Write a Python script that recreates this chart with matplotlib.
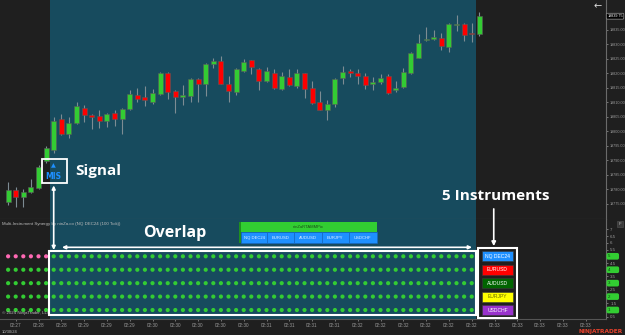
import numpy as np
import matplotlib
matplotlib.use("Agg")
import matplotlib.pyplot as plt
import matplotlib.transforms as mtransforms
from matplotlib.patches import Rectangle, ConnectionPatch
from matplotlib.ticker import FixedLocator

## data (NQ DEC24, 100 tick bars)
opens = [19775.75, 19779.75, 19777.25, 19779.25, 19780.5, 19789.75, 19793.75, 19804.25, 19799.25, 19803.0,
         19808.25, 19805.75, 19805.25, 19803.5, 19806.25, 19804.25, 19807.75, 19812.75, 19811.75, 19810.0,
         19813.0, 19820.25, 19814.0, 19811.75, 19812.25, 19818.25, 19816.5, 19823.25, 19824.25, 19816.5,
         19813.75, 19820.75, 19824.5, 19821.5, 19817.25, 19820.0, 19814.5, 19818.75, 19815.75, 19820.0,
         19815.0, 19810.0, 19807.5, 19809.5, 19818.5, 19820.75, 19820.25, 19819.0, 19816.5, 19817.0,
         19819.0, 19814.25, 19815.25, 19820.25, 19825.5, 19831.5, 19831.75, 19832.25, 19829.25, 19836.75,
         19837.0, 19834.0, 19833.5]
highs = [19782.75, 19781.0, 19780.0, 19783.75, 19788.5, 19795.0, 19805.0, 19806.0, 19805.0, 19810.25,
         19809.0, 19806.0, 19807.5, 19806.25, 19807.5, 19808.0, 19814.25, 19815.0, 19815.75, 19814.75,
         19820.5, 19820.5, 19814.25, 19816.0, 19818.5, 19818.5, 19823.5, 19825.5, 19826.0, 19819.0,
         19821.75, 19825.0, 19824.75, 19821.75, 19822.25, 19821.5, 19820.5, 19821.5, 19821.5, 19820.25,
         19817.5, 19814.0, 19811.0, 19818.5, 19822.75, 19821.5, 19821.5, 19820.25, 19818.75, 19819.75,
         19819.75, 19817.25, 19821.75, 19827.5, 19833.75, 19836.0, 19835.0, 19834.0, 19837.25, 19840.0,
         19837.25, 19837.5, 19841.25]
lows = [19774.75, 19774.0, 19774.0, 19778.75, 19780.25, 19789.25, 19792.5, 19798.75, 19797.75, 19802.5,
        19803.25, 19801.0, 19801.25, 19801.5, 19802.0, 19799.25, 19807.5, 19810.25, 19808.75, 19809.5,
        19812.75, 19811.25, 19806.5, 19809.25, 19810.0, 19810.25, 19812.25, 19821.75, 19816.25, 19810.25,
        19812.5, 19820.5, 19819.75, 19814.25, 19817.0, 19814.75, 19814.25, 19815.75, 19815.0, 19811.5,
        19809.5, 19807.25, 19804.0, 19808.5, 19816.5, 19818.75, 19816.5, 19814.5, 19814.25, 19816.5,
        19813.0, 19813.75, 19815.0, 19819.75, 19825.25, 19831.25, 19831.5, 19828.25, 19827.25, 19834.75,
        19831.25, 19831.0, 19833.0]
closes = [19779.75, 19777.25, 19779.25, 19780.75, 19787.75, 19794.25, 19803.5, 19799.25, 19803.0, 19808.75,
          19805.75, 19805.0, 19803.5, 19806.0, 19804.25, 19807.75, 19813.0, 19811.25, 19811.0, 19813.25,
          19820.25, 19813.5, 19811.75, 19812.5, 19818.0, 19816.5, 19823.25, 19824.25, 19816.5, 19814.0,
          19821.5, 19824.0, 19822.25, 19817.5, 19821.0, 19815.0, 19819.0, 19816.0, 19820.0, 19814.5,
          19809.75, 19807.5, 19809.5, 19818.25, 19820.5, 19820.25, 19819.25, 19816.0, 19817.0, 19818.5,
          19813.25, 19815.0, 19820.5, 19827.0, 19830.5, 19831.75, 19832.5, 19829.5, 19837.0, 19836.75,
          19833.25, 19833.5, 19839.75]
last_price = 19839.75

# indicator: one row per instrument, trend state as (state, number of bars) runs
instruments = ["NQ DEC24", "EURUSD", "AUDUSD", "EURJPY", "USDCHF"]
inst_colors = ["#1e90ff", "#ff0000", "#006400", "#ffff00", "#9932cc"]
row_values = [5, 4, 3, 2, 1]
state_runs = [[(-1, 6), (1, 56)],
              [(1, 62)],
              [(1, 62)],
              [(1, 62)],
              [(1, 62)]]
signal_bar = 6

time_ticks = [1, 4, 7, 10, 13, 16, 19, 22, 25, 28, 31, 34, 37, 40, 43, 46, 49, 52, 55, 58, 61, 64, 67, 70, 73, 76]
time_labels = ["02:27", "02:28", "02:28", "02:29", "02:29", "02:29", "02:30", "02:30", "02:30", "02:30",
               "02:30", "02:31", "02:31", "02:31", "02:31", "02:32", "02:32", "02:32", "02:32", "02:32",
               "02:32", "02:33", "02:33", "02:33", "02:33", "02:33"]

BG = "#1f1f1f"
TEAL = "#174b5e"
GREEN = "#33cc33"
RED = "#ff0000"
WICK = "#7d8c93"
PINK = "#ff69b4"
AXC = "#9a9a9a"
SMALL = "Liberation Sans"

W, H = 625.0, 335.0
def frac(x0, y0, x1, y1):
    return [x0 / W, 1 - y1 / H, (x1 - x0) / W, (y1 - y0) / H]

fig = plt.figure(figsize=(6.25, 3.35), dpi=100, facecolor=BG)
ax = fig.add_axes(frac(0, 0, 606, 219))
ind = fig.add_axes(frac(0, 219, 606, 319), sharex=ax)

for a in (ax, ind):
    a.set_facecolor(BG)
    for s in ("top", "left"):
        a.spines[s].set_visible(False)
    a.spines["right"].set_color("#6a6a6a")
    a.spines["bottom"].set_color("#555555")
    a.spines["right"].set_linewidth(0.8)
    a.spines["bottom"].set_linewidth(0.8)
    a.axvspan(5.5, 61.5, color=TEAL, lw=0, zorder=0)

ax.set_xlim(-1.066, 78.67)
ax.set_ylim(19769.82, 19845.34)
ind.set_ylim(0.33, 7.78)

# candles
x = np.arange(len(opens))
o = np.array(opens); c = np.array(closes)
cols = np.where(c >= o, GREEN, RED)
ax.vlines(x, lows, highs, color=WICK, lw=0.8, zorder=2)
ax.bar(x, np.maximum(np.abs(c - o), 0.35), bottom=np.minimum(o, c), width=0.66,
       color=cols, edgecolor="#5a5a5a", lw=0.4, zorder=3)

# price axis
ax.yaxis.tick_right()
ax.set_yticks(np.arange(19775, 19836, 5))
ax.set_yticklabels(["%.2f" % v for v in np.arange(19775, 19836, 5)], family=SMALL)
ax.tick_params(axis="y", labelsize=2.7, colors=AXC, length=1.5, width=0.5, pad=0.8)
ax.tick_params(axis="x", bottom=False, labelbottom=False)
ax.text(1.002, last_price, "%.2f" % last_price,
        transform=mtransforms.blended_transform_factory(ax.transAxes, ax.transData),
        fontsize=2.7, family=SMALL, color="white", va="center", ha="left",
        bbox=dict(boxstyle="round,pad=0.25", fc="black", ec="#999999", lw=0.5))

# indicator dots
for r, runs in enumerate(state_runs):
    states = []
    for st, n in runs:
        states += [st] * n
    idx = np.arange(len(states))
    dcol = [GREEN if s > 0 else PINK for s in states]
    ind.scatter(idx, np.full(len(idx), row_values[r]), s=9, c=dcol, lw=0, zorder=3)

ind.yaxis.tick_right()
ind_ticks = [0.5, 1.5, 2.5, 3.5, 4.5, 5.5, 6, 6.5, 7]
ind.set_yticks(ind_ticks)
ind.set_yticklabels(["%g" % v for v in ind_ticks], family=SMALL)
ind.tick_params(axis="y", labelsize=3.2, colors=AXC, length=1.5, width=0.5, pad=1.5)
bt = mtransforms.blended_transform_factory(ind.transAxes, ind.transData)
for v in row_values:
    ind.text(1.003, v, "%d      " % v, transform=bt, fontsize=3.2, family=SMALL, color="#0f3d0f",
             va="center", ha="left", zorder=5,
             bbox=dict(boxstyle="round,pad=0.3,rounding_size=0.4", fc="#32cd32", ec="none"))

ind.xaxis.set_major_locator(FixedLocator(time_ticks))
ind.set_xticklabels(time_labels, family=SMALL)
ind.tick_params(axis="x", labelsize=3.3, colors=AXC, length=1.5, width=0.5, pad=1.2)

ind.text(0.004, 0.975, "Multi-Instrument Synergy by ninZa.co (NQ DEC24 (100 Tick))",
         transform=ind.transAxes, fontsize=3.2, family=SMALL, color="#bbbbbb", va="top")
ind.text(0.004, 0.04, "\u00a9 2024 NinjaTrader, LLC", transform=ind.transAxes,
         fontsize=3.2, family=SMALL, color="#bbbbbb", va="bottom")

# legend table on the indicator panel
ind.add_patch(Rectangle((30.38, 6.81), 18.1, 0.75, fc="#32cd32", ec="none", zorder=4))
ind.add_patch(Rectangle((30.38, 6.0), 0.26, 1.56, fc="#1f8f1f", ec="none", zorder=5))
ind.text(39.5, 7.18, "ninZaRTAMMPix", fontsize=3.0, family=SMALL, color="#1a4d1a",
         ha="center", va="center", zorder=5)
edges = [30.64, 34.12, 37.66, 41.26, 44.86, 48.48]
for k, name in enumerate(instruments):
    ind.add_patch(Rectangle((edges[k], 6.0), edges[k + 1] - edges[k], 0.81, fc="#1e90ff",
                            ec="#1565c0", lw=0.4, zorder=4))
    ind.text((edges[k] + edges[k + 1]) / 2, 6.4, name, fontsize=3.0, family=SMALL, color="#e8f2ff",
             ha="center", va="center", zorder=5)

# overlap box and arrows
ind.add_patch(Rectangle((5.38, 0.63), 56.19, 4.77, fill=False, ec="white", lw=1.5, zorder=6))
ind.annotate("", xy=(61.04, 5.67), xytext=(7.09, 5.67),
             arrowprops=dict(arrowstyle="<|-|>", color="white", lw=1.2, mutation_scale=5,
                             shrinkA=0, shrinkB=0), zorder=6)
ind.text(21.9, 6.75, "Overlap", fontsize=11.5, color="white", fontweight="bold",
         family="Open Sans", ha="center", va="center", zorder=6)

# instruments box
ind.add_patch(Rectangle((61.83, 0.43), 5.13, 5.21, fill=False, ec="white", lw=1.5,
                        zorder=6, clip_on=False))
for k, name in enumerate(instruments):
    v = row_values[k]
    ind.add_patch(Rectangle((62.36, v - 0.37), 4.07, 0.745, fc=inst_colors[k], ec="#3a3a3a",
                            lw=0.4, zorder=6))
    ind.text(64.4, v, name, fontsize=3.6, family=SMALL, color="#6b6b00" if k == 3 else "white",
             ha="center", va="center", zorder=7)

# signal marker
ax.add_patch(Rectangle((4.46, 19782.24), 3.29, 8.28, fill=False, ec="white", lw=1.3, zorder=6))
ax.text(signal_bar, 19788.2, "\u25b2", fontsize=4.5, color="#1e90ff", ha="center", va="center", zorder=6)
ax.text(signal_bar, 19784.6, "MIS", fontsize=5.5, color="#1e90ff", fontweight="bold",
        ha="center", va="center", zorder=6)
ax.text(8.8, 19786.4, "Signal", fontsize=11, color="white", fontweight="bold",
        family="Open Sans", ha="left", va="center", zorder=6)
ax.text(64.1, 19777.8, "5 Instruments", fontsize=11, color="white", fontweight="bold",
        family="Open Sans", ha="center", va="center", zorder=6)

con = ConnectionPatch(xyA=(signal_bar, 19781.4), coordsA=ax.transData,
                      xyB=(signal_bar, 5.47), coordsB=ind.transData,
                      arrowstyle="<|-|>", color="white", lw=1.2, mutation_scale=5,
                      shrinkA=0, shrinkB=0)
fig.add_artist(con)
con2 = ConnectionPatch(xyA=(63.9, 19773.3), coordsA=ax.transData,
                       xyB=(63.9, 5.76), coordsB=ind.transData,
                       arrowstyle="-|>", color="white", lw=1.2, mutation_scale=6,
                       shrinkA=0, shrinkB=0)
fig.add_artist(con2)

# chrome
fig.text(598 / W, 1 - 6 / H, "\u2190", fontsize=7, color="#dddddd", ha="center", va="center")
fig.text(620 / W, 1 - 224 / H, "F", fontsize=3.2, family=SMALL, color="#bbbbbb", ha="center",
         va="center", bbox=dict(boxstyle="square,pad=0.3", fc="#3a3a3a", ec="#555555", lw=0.4))
fig.text(2 / W, 1 - 332 / H, "10/30/24", fontsize=3.0, family=SMALL, color="#bbbbbb",
         ha="left", va="center")
fig.text(623 / W, 1 - 331.5 / H, "NINJATRADER", fontsize=4.2, color="#e8412c", fontweight="bold",
         ha="right", va="center")

fig.savefig("out.png", dpi=100, facecolor=BG)
